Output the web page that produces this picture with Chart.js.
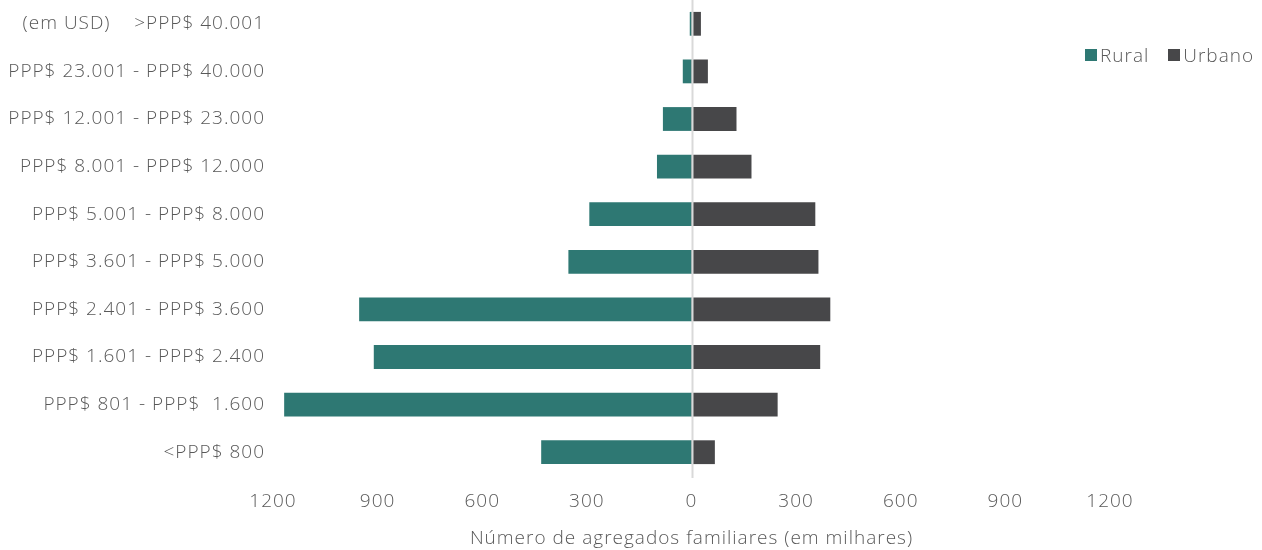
<!DOCTYPE html>
<html lang="pt">
<head>
<meta charset="utf-8">
<title>Agregados familiares por rendimento</title>
<script src="https://cdn.jsdelivr.net/npm/chart.js@4.4.1/dist/chart.umd.min.js"></script>
<style>
  html, body { margin: 0; padding: 0; background: #fff; }
  .wrap { position: relative; width: 1262px; height: 550px; }
  canvas { display: block; }
  .legend {
    position: absolute; top: 42px; left: 1085px;
    font: 300 19px "Open Sans", sans-serif; color: #595959; letter-spacing: 1px;
    display: flex; align-items: center; white-space: nowrap;
  }
  .legend span.box { display: inline-block; width: 12px; height: 12px; margin-right: 3px; }
  .legend span.item { display: inline-flex; align-items: center; margin-right: 19px; }
</style>
</head>
<body>
<div class="wrap">
  <canvas id="chart" width="1262" height="550"></canvas>
  <div class="legend" id="legend"></div>
</div>
<script>
// Income brackets, top row first
const categories = [
  "(em USD)    >PPP$ 40.001",
  "PPP$ 23.001 - PPP$ 40.000",
  "PPP$ 12.001 - PPP$ 23.000",
  "PPP$ 8.001 - PPP$ 12.000",
  "PPP$ 5.001 - PPP$ 8.000",
  "PPP$ 3.601 - PPP$ 5.000",
  "PPP$ 2.401 - PPP$ 3.600",
  "PPP$ 1.601 - PPP$ 2.400",
  "PPP$ 801 - PPP$  1.600",
  "<PPP$ 800"
];

// Households, thousands
const rural = [5, 25, 82, 99, 293, 353, 953, 911, 1168, 431];
const urbano = [27, 47, 129, 172, 355, 364, 398, 369, 247, 67];

const xTicks = [-1200, -900, -600, -300, 0, 300, 600, 900, 1200];

const ruralColor = "#2e7873";
const urbanoColor = "#474749";
const textColor = "#595959";

Chart.defaults.font.family = "'Open Sans', sans-serif";
Chart.defaults.font.weight = 300;
Chart.defaults.font.size = 19;
Chart.defaults.color = textColor;

// slightly wider tracking for all canvas text
const tracking = {
  id: "tracking",
  beforeDraw(chart) {
    chart.ctx.letterSpacing = "1px";
  }
};

// vertical line at zero, drawn on top of the bars
const zeroLine = {
  id: "zeroLine",
  afterDatasetsDraw(chart) {
    const { ctx, chartArea, scales } = chart;
    const x = Math.round(scales.x.getPixelForValue(0)) + 0.5;
    ctx.save();
    ctx.strokeStyle = "#d9d9d9";
    ctx.lineWidth = 2;
    ctx.beginPath();
    ctx.moveTo(x, chartArea.top);
    ctx.lineTo(x, chartArea.bottom + 2);
    ctx.stroke();
    ctx.restore();
  }
};

const chart = new Chart(document.getElementById("chart"), {
  type: "bar",
  data: {
    labels: categories,
    datasets: [
      {
        label: "Rural",
        data: rural.map(v => -v),
        backgroundColor: ruralColor,
        barPercentage: 0.5,
        categoryPercentage: 1
      },
      {
        label: "Urbano",
        data: urbano,
        backgroundColor: urbanoColor,
        barPercentage: 0.5,
        categoryPercentage: 1
      }
    ]
  },
  options: {
    indexAxis: "y",
    responsive: false,
    animation: false,
    layout: { padding: { top: 0, right: 152, bottom: 0, left: 0 } },
    plugins: {
      legend: { display: false },
      tooltip: {
        callbacks: {
          label: c => c.dataset.label + ": " + Math.abs(c.raw)
        }
      }
    },
    scales: {
      x: {
        stacked: true,
        min: -1200,
        max: 1200,
        afterBuildTicks: scale => {
          scale.ticks = xTicks.map(v => ({ value: v }));
        },
        afterFit: scale => { scale.height = 74; },
        ticks: {
          padding: 6,
          callback: v => Math.abs(v)
        },
        grid: { display: false },
        border: { display: false },
        title: {
          display: true,
          text: "Número de agregados familiares (em milhares)",
          padding: { top: 0, bottom: 0 }
        }
      },
      y: {
        stacked: true,
        afterFit: scale => {
          scale.width = 273;
          scale.paddingTop = 0;
          scale.paddingBottom = 0;
        },
        ticks: { padding: 8 },
        grid: { display: false, drawTicks: false },
        border: { display: false }
      }
    }
  },
  plugins: [tracking, zeroLine]
});

// legend drawn as html, overlapping the plot corner
const legendEl = document.getElementById("legend");
chart.data.datasets.forEach(ds => {
  const item = document.createElement("span");
  item.className = "item";
  const box = document.createElement("span");
  box.className = "box";
  box.style.background = ds.backgroundColor;
  item.appendChild(box);
  item.appendChild(document.createTextNode(ds.label));
  legendEl.appendChild(item);
});
</script>
</body>
</html>
